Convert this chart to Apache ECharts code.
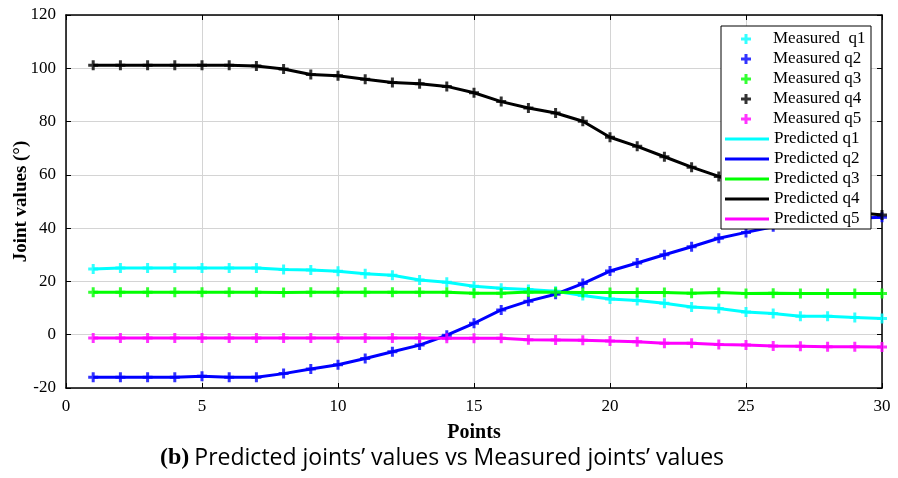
<!DOCTYPE html>
<html>
<head>
<meta charset="utf-8">
<script src="https://cdn.jsdelivr.net/npm/echarts@6/dist/echarts.min.js"></script>
<style>
	html, body { margin: 0; padding: 0; background: #fff; }
	#chart { width: 898px; height: 478px; }
</style>
</head>
<body>
<div id="chart"></div>
<script>
// 데이터
var points = [1, 2, 3, 4, 5, 6, 7, 8, 9, 10, 11, 12, 13, 14, 15, 16, 17, 18, 19, 20, 21, 22, 23, 24, 25, 26, 27, 28, 29, 30];
var q1 = [24.7, 25.0, 25.0, 25.0, 25.0, 25.0, 25.0, 24.5, 24.3, 23.8, 22.9, 22.3, 20.5, 19.7, 18.2, 17.4, 17.0, 16.3, 14.7, 13.4, 12.8, 11.8, 10.4, 9.8, 8.5, 8.0, 6.9, 6.9, 6.5, 6.1];
var q2 = [-16.0, -16.0, -16.0, -16.0, -15.6, -16.0, -16.0, -14.6, -12.9, -11.3, -8.9, -6.4, -3.9, -0.2, 4.3, 9.3, 12.6, 15.2, 19.2, 23.9, 26.9, 30.0, 33.0, 36.2, 38.4, 40.5, 42.0, 43.0, 43.7, 44.1];
var q3 = [15.9, 15.9, 15.9, 15.9, 15.9, 15.9, 15.9, 15.8, 15.9, 15.9, 15.9, 15.9, 15.9, 15.9, 15.6, 15.6, 16.0, 15.9, 15.8, 15.8, 15.8, 15.8, 15.6, 15.8, 15.5, 15.6, 15.5, 15.5, 15.5, 15.5];
var q4 = [101.1, 101.1, 101.1, 101.1, 101.1, 101.1, 100.9, 99.7, 97.7, 97.2, 95.9, 94.7, 94.2, 93.2, 90.8, 87.5, 85.1, 83.2, 80.1, 74.1, 70.7, 66.8, 62.9, 59.4, 56.5, 53.5, 50.5, 48.0, 46.0, 44.9];
var q5 = [-1.2, -1.2, -1.2, -1.2, -1.2, -1.2, -1.2, -1.2, -1.2, -1.2, -1.2, -1.2, -1.2, -1.3, -1.3, -1.3, -1.9, -2.0, -2.1, -2.4, -2.6, -3.2, -3.2, -3.7, -3.9, -4.2, -4.3, -4.5, -4.5, -4.6];

var joints = [q1, q2, q3, q4, q5];
var jointNames = ['q1', 'q2', 'q3', 'q4', 'q5'];
var jointColors = ['#00ffff', '#0000ff', '#00ff00', '#000000', '#ff00ff'];

var plusIcon = 'path://M3.5,0h3v3.5h3.5v3h-3.5v3.5h-3v-3.5h-3.5v-3h3.5z';
var serif = 'Liberation Serif';

function pairs(values) {
	var out = new Array();
	for (var i = 0; i < points.length; i++) {
		out.push([points[i], values[i]]);
	}
	return out;
}

// 시리즈 (예측 = 선, 측정 = + 마커)
var seriesList = new Array();
var measuredNames = new Array();
var predictedNames = new Array();
for (var i = 0; i < joints.length; i++) {
	var pName = 'Predicted ' + jointNames[i];
	predictedNames.push(pName);
	seriesList.push({
		name: pName,
		type: 'line',
		data: pairs(joints[i]),
		symbol: 'none',
		lineStyle: { color: jointColors[i], width: 3 },
		itemStyle: { color: jointColors[i] },
		z: 2
	});
}
for (var i = 0; i < joints.length; i++) {
	var mName = 'Measured ' + (i == 0 ? ' ' : '') + jointNames[i];
	measuredNames.push(mName);
	seriesList.push({
		name: mName,
		type: 'scatter',
		data: pairs(joints[i]),
		symbol: plusIcon,
		symbolSize: 10,
		itemStyle: { color: jointColors[i] },
		z: 3
	});
}

var chart = echarts.init(document.getElementById('chart'));

var axisLabelStyle = { fontFamily: serif, fontSize: 17, color: '#000' };
var tickInside = { show: true, inside: true, length: 5, lineStyle: { color: '#000' } };
var legendText = { fontFamily: serif, fontSize: 17, lineHeight: 20, color: '#000' };

var option = {
	animation: false,
	backgroundColor: '#fff',
	grid: { left: 66, right: 16, top: 15, bottom: 90, containLabel: false, outerBoundsMode: 'none' },
	title: {
		left: 160,
		top: 446,
		padding: 0,
		text: '{b|(b)} {t|Predicted joints\u2019 values vs Measured joints\u2019 values}',
		textStyle: {
			fontWeight: 'normal',
			rich: {
				b: { fontFamily: serif, fontWeight: 'bold', fontSize: 24, color: '#000' },
				t: { fontFamily: 'Open Sans', fontWeight: 'normal', fontSize: 23, color: '#000' }
			}
		}
	},
	graphic: [{
		type: 'rect',
		z: 10,
		shape: { x: 721, y: 26, width: 150, height: 203 },
		style: { fill: '#fff', stroke: '#000', lineWidth: 1 }
	}],
	legend: [{
		data: measuredNames.map(function (n) { return { name: n, icon: plusIcon }; }),
		orient: 'vertical',
		left: 741,
		top: 29,
		padding: 0,
		itemWidth: 44,
		itemHeight: 10,
		itemGap: 0,
		textStyle: legendText,
		z: 11
	}, {
		data: predictedNames.map(function (n) { return { name: n, icon: 'rect' }; }),
		orient: 'vertical',
		left: 725,
		top: 129,
		padding: 0,
		itemWidth: 44,
		itemHeight: 3,
		itemGap: 0,
		textStyle: legendText,
		z: 11
	}],
	xAxis: [{
		type: 'value',
		min: 0,
		max: 30,
		interval: 5,
		name: 'Points',
		nameLocation: 'middle',
		nameGap: 35,
		nameMoveOverlap: false,
		nameTextStyle: { fontFamily: serif, fontWeight: 'bold', fontSize: 20, color: '#000' },
		axisLine: { show: true, onZero: false, lineStyle: { color: '#000', width: 1.5 } },
		axisTick: tickInside,
		axisLabel: Object.assign({ margin: 10 }, axisLabelStyle),
		splitLine: { show: true, lineStyle: { color: '#d4d4d4', width: 1 } }
	}, {
		type: 'value',
		position: 'top',
		min: 0,
		max: 30,
		interval: 5,
		axisLine: { show: true, onZero: false, lineStyle: { color: '#000', width: 1.5 } },
		axisTick: tickInside,
		axisLabel: { show: false },
		splitLine: { show: false }
	}],
	yAxis: [{
		type: 'value',
		min: -20,
		max: 120,
		interval: 20,
		name: 'Joint values (\u00b0)',
		nameLocation: 'middle',
		nameGap: 35,
		nameMoveOverlap: false,
		nameTextStyle: { fontFamily: serif, fontWeight: 'bold', fontSize: 19, color: '#000' },
		axisLine: { show: true, onZero: false, lineStyle: { color: '#000', width: 1.5 } },
		axisTick: tickInside,
		axisLabel: Object.assign({ margin: 10 }, axisLabelStyle),
		splitLine: { show: true, lineStyle: { color: '#d4d4d4', width: 1 } }
	}, {
		type: 'value',
		position: 'right',
		min: -20,
		max: 120,
		interval: 20,
		axisLine: { show: true, onZero: false, lineStyle: { color: '#000', width: 1.5 } },
		axisTick: tickInside,
		axisLabel: { show: false },
		splitLine: { show: false }
	}],
	series: seriesList
};

chart.setOption(option);
</script>
</body>
</html>
